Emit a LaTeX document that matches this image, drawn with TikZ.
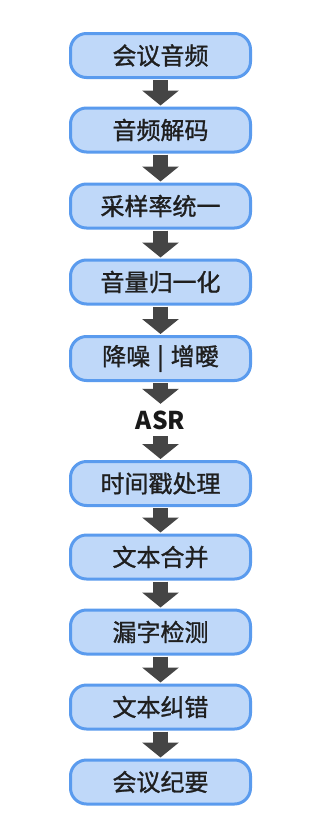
\documentclass[tikz,border=0pt]{standalone}
\usepackage{fontspec}
\setmainfont{Noto Sans CJK SC}
\newfontfamily\boxfont{Noto Sans CJK SC}[FakeBold=1.2]
\usetikzlibrary{arrows.meta}
\definecolor{boxfill}{HTML}{BFD8F9}
\definecolor{boxline}{HTML}{5A9BEE}
\definecolor{arrowc}{HTML}{454545}
\tikzset{
  stepbox/.style={draw=boxline, fill=boxfill, line width=3pt, rounded corners=16pt,
    minimum width=180pt, minimum height=44pt, inner sep=0pt,
    font=\boxfont\fontsize{24}{26}\selectfont, text=black!88},
  flowarrow/.style={draw=arrowc, line width=15pt,
    -{Triangle[width=36pt,length=15pt]}, shorten <=1pt, shorten >=1pt},
  asrlabel/.style={inner sep=0pt, minimum height=30pt, text=black!90,
    font=\bfseries\fontsize{24.5}{26}\selectfont}
}
\begin{document}
\begin{tikzpicture}[x=1pt,y=-1pt]
\useasboundingbox[fill=white] (0,0) rectangle (321,822);
\node[stepbox] (b1) at (160.5,55.5) {会议音频};
\node[stepbox] (b2) at (160.5,130) {音频解码};
\node[stepbox] (b3) at (160.5,206) {采样率统一};
\node[stepbox] (b4) at (160.5,282) {音量归一化};
\node[stepbox] (b5) at (160.5,358.5) {降噪\hspace{7pt}|\hspace{7pt}增曖};
\node[asrlabel] (asr) at (160.5,420) {ASR};
\node[stepbox] (b6) at (160.5,483.5) {时间戳处理};
\node[stepbox] (b7) at (160.5,557) {文本合并};
\node[stepbox] (b8) at (160.5,632) {漏字检测};
\node[stepbox] (b9) at (160.5,707) {文本纠错};
\node[stepbox] (b10) at (160.5,782) {会议纪要};
\draw[flowarrow] (b1) -- (b2);
\draw[flowarrow] (b2) -- (b3);
\draw[flowarrow] (b3) -- (b4);
\draw[flowarrow] (b4) -- (b5);
\draw[flowarrow] (b5) -- (asr);
\draw[flowarrow] (asr) -- (b6);
\draw[flowarrow] (b6) -- (b7);
\draw[flowarrow] (b7) -- (b8);
\draw[flowarrow] (b8) -- (b9);
\draw[flowarrow] (b9) -- (b10);
\end{tikzpicture}
\end{document}
